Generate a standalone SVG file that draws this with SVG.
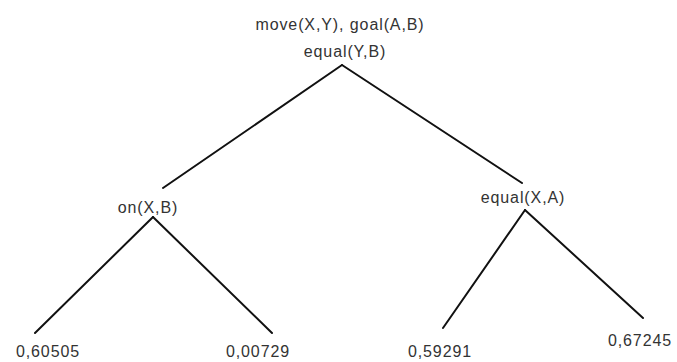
<svg xmlns="http://www.w3.org/2000/svg" width="677" height="362" viewBox="0 0 677 362">
<style>
text{font-family:"Liberation Sans",Arial,sans-serif;font-size:16px;letter-spacing:0.9px;fill:#333;text-anchor:middle}
.e{stroke:#111;stroke-width:2;fill:none;stroke-linecap:round}
</style>
<rect width="677" height="362" fill="#fff"/>
<g id="connectors">
<line class="e" x1="342" y1="65" x2="163" y2="188"/>
<line class="e" x1="342" y1="65" x2="522" y2="183"/>
<line class="e" x1="153" y1="217" x2="35" y2="333"/>
<line class="e" x1="153" y1="217" x2="272" y2="333"/>
<line class="e" x1="525" y1="210" x2="443" y2="328"/>
<line class="e" x1="525" y1="210" x2="643" y2="318"/>
</g>
<g id="root"><text x="340" y="30">move(X,Y), goal(A,B)</text><text x="345" y="57">equal(Y,B)</text></g>
<g id="onXB"><text x="148" y="213">on(X,B)</text></g>
<g id="equalXA"><text x="523" y="203">equal(X,A)</text></g>
<g id="leaf1"><text x="48" y="357">0,60505</text></g>
<g id="leaf2"><text x="258" y="357">0,00729</text></g>
<g id="leaf3"><text x="440" y="357">0,59291</text></g>
<g id="leaf4"><text x="640" y="346">0,67245</text></g>
</svg>
